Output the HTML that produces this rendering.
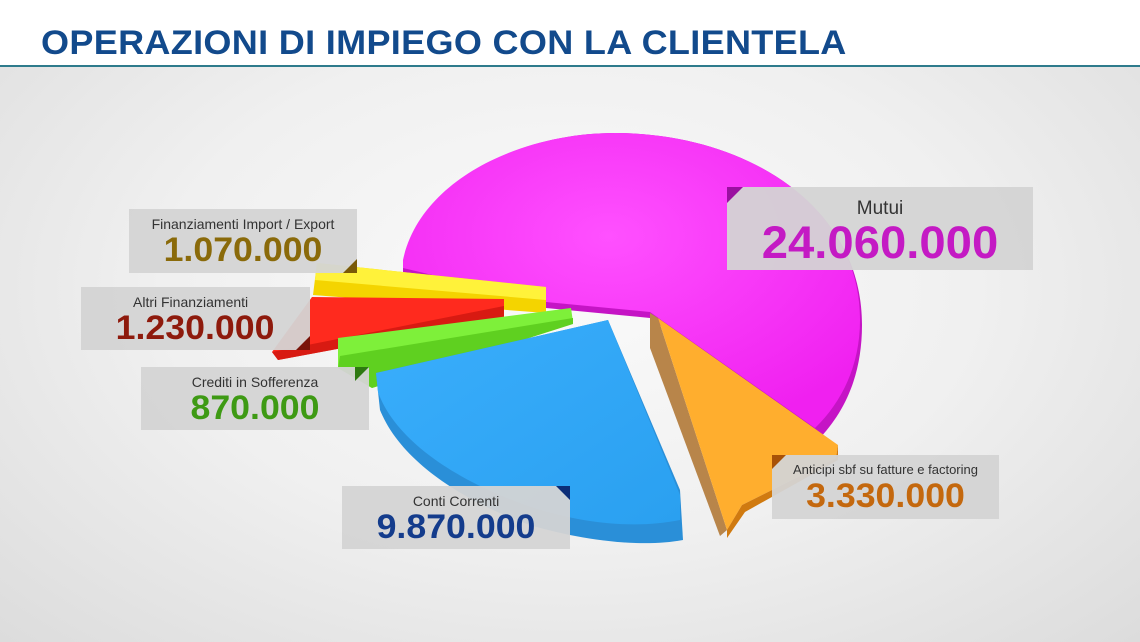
<!DOCTYPE html>
<html><head><meta charset="utf-8"><style>
html,body{margin:0;padding:0}
body{width:1140px;height:642px;overflow:hidden;position:relative;font-family:"Liberation Sans","DejaVu Sans",sans-serif;background:radial-gradient(ellipse at 50% 45%,#fafafa 0%,#f0f0f0 50%,#dcdcdc 100%)}
.hdr{position:absolute;left:0;top:0;width:1140px;height:65px;background:#fff;border-bottom:2px solid #2e7b8c}
.ttl{position:absolute;left:41px;top:24px;font-weight:bold;font-size:34px;color:#124a8c;letter-spacing:0.3px;white-space:nowrap;transform:scaleX(1.06);transform-origin:left}
.box{position:absolute;background:rgba(212,212,212,0.95);text-align:center;overflow:hidden}
.box .l{font-size:14px;color:#333;margin-top:7px;line-height:16px}
.box .v{font-weight:bold;font-size:34px;line-height:36px;transform:scaleX(1.05)}
.tri{position:absolute;width:0;height:0}
</style></head><body>
<div class="hdr"><div class="ttl">OPERAZIONI DI IMPIEGO CON LA CLIENTELA</div></div>
<svg width="1140" height="642" style="position:absolute;left:0;top:0">
<defs>
<radialGradient id="mg" cx="0.45" cy="0.35" r="0.7"><stop offset="0" stop-color="#ff50ff"/><stop offset="1" stop-color="#f020f0"/></radialGradient>
<linearGradient id="bg" x1="0" y1="0" x2="1" y2="1"><stop offset="0" stop-color="#3aaefc"/><stop offset="1" stop-color="#2aa0f0"/></linearGradient>
</defs>
<path d="M403,268 C420,180 520,133 615,133 C745,133 862,205 862,325 C862,375 845,412 818,440 L650,318 L546,308 L403,276 Z" fill="#c514c5"/>
<path d="M403,260 C420,180 520,133 615,133 C745,133 860,205 860,320 C860,365 842,402 815,428 L650,312 L546,302 L403,268 Z" fill="url(#mg)"/>
<path d="M317,263 L546,287 L546,313 L313,295 Z" fill="#f4d400"/>
<path d="M317,263 L546,287 L546,300 L315,280 Z" fill="#fff23a"/>
<path d="M312,297 L504,299 L504,318 L278,360 L272,352 Z" fill="#ff2a1e"/>
<path d="M504,306 L504,318 L278,360 L272,352 Z" fill="#d81a12"/>
<path d="M338,338 L571,308 L573,322 L372,388 L338,368 Z" fill="#7ef03a"/>
<path d="M340,356 L573,318 L573,324 L372,388 L338,368 Z" fill="#5fd020"/>
<path d="M376,373 L608,320 L680,490 L683,540 C640,548 580,540 530,525 C460,500 400,460 380,410 Z" fill="#2a8fd8"/>
<path d="M376,373 L608,320 L680,495 L680,520 C630,530 575,522 525,505 C455,480 395,440 378,392 Z" fill="url(#bg)"/>
<path d="M650,313 L658,318 L727,530 L720,536 L650,348 Z" fill="#b8854a"/>
<path d="M658,318 L838,445 L836,458 L742,505 L727,530 Z" fill="#ffae2e"/>
<path d="M838,445 L836,458 L742,505 L727,530 L727,538 L745,512 L838,460 Z" fill="#d07a10"/>
</svg>
<div class="box" style="left:129px;top:209px;width:228px;height:64px"><div class="l">Finanziamenti Import / Export</div><div class="v" style="color:#8a6a0a">1.070.000</div></div>
<div class="tri" style="left:343px;top:259px;border-left:14px solid transparent;border-bottom:14px solid #7a5a08"></div>
<div class="box" style="left:81px;top:287px;width:229px;height:63px"><div class="l" style="text-align:left;padding-left:52px">Altri Finanziamenti</div><div class="v" style="color:#8e1a0c;text-align:left;padding-left:33px;transform-origin:left">1.230.000</div></div>
<div class="tri" style="left:296px;top:336px;border-left:14px solid transparent;border-bottom:14px solid #7a1208"></div>
<div class="box" style="left:141px;top:367px;width:228px;height:63px"><div class="l">Crediti in Sofferenza</div><div class="v" style="color:#3e9a14">870.000</div></div>
<div class="tri" style="left:355px;top:367px;border-right:14px solid transparent;border-top:14px solid #2e7a10"></div>
<div class="box" style="left:342px;top:486px;width:228px;height:63px"><div class="l">Conti Correnti</div><div class="v" style="color:#143c8c">9.870.000</div></div>
<div class="tri" style="left:556px;top:486px;border-left:14px solid transparent;border-top:14px solid #0c2e78"></div>
<div class="box" style="left:727px;top:187px;width:306px;height:83px"><div class="l" style="font-size:19px;margin-top:11px;line-height:22px">Mutui</div><div class="v" style="color:#c41ac4;font-size:45px;line-height:46px">24.060.000</div></div>
<div class="tri" style="left:727px;top:187px;border-right:16px solid transparent;border-top:16px solid #9a10a0"></div>
<div class="box" style="left:772px;top:455px;width:227px;height:64px"><div class="l" style="font-size:13px">Anticipi sbf su fatture e factoring</div><div class="v" style="color:#c4680e">3.330.000</div></div>
<div class="tri" style="left:772px;top:455px;border-right:14px solid transparent;border-top:14px solid #a85208"></div>
</body></html>
